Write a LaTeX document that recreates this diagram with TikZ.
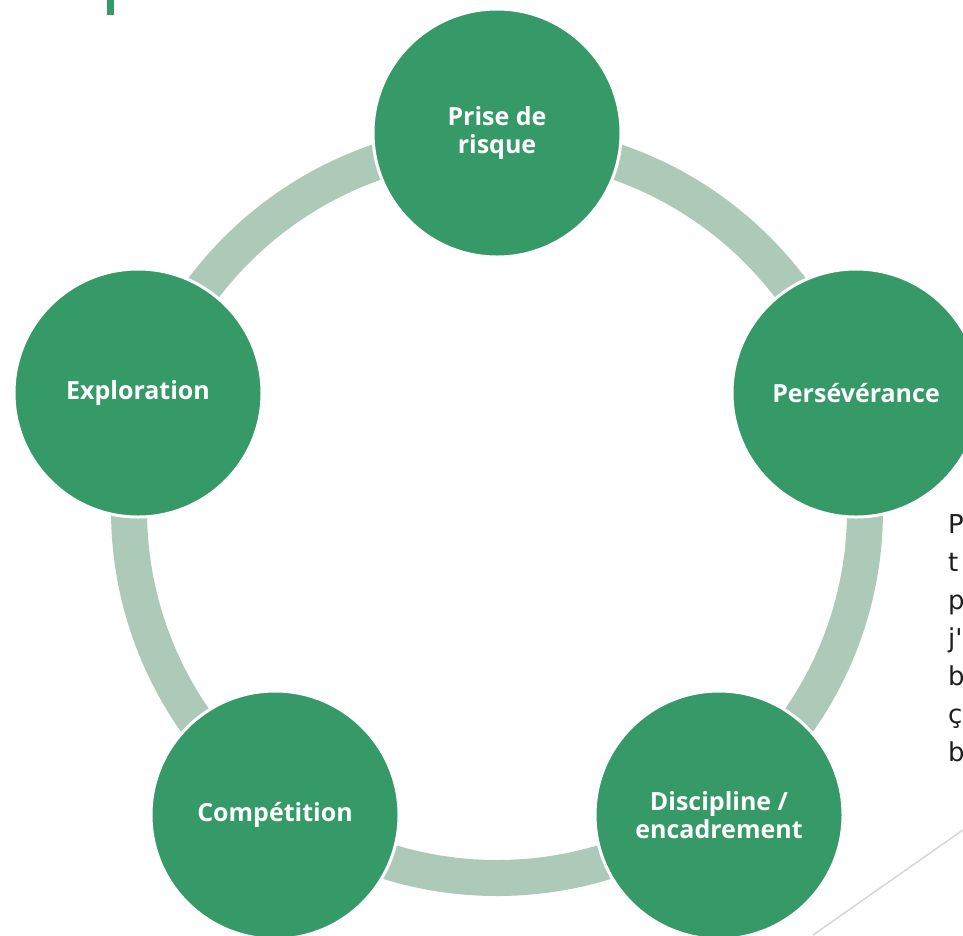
\documentclass[tikz,border=0pt]{standalone}
\usepackage{fontspec}
\setmainfont{Open Sans}
\newfontfamily\cutfont{DejaVu Sans}
\usepackage{tikz}
\usetikzlibrary{positioning}
\definecolor{cyclegreen}{HTML}{359A67}
\definecolor{cycleringgreen}{HTML}{ADC9B8}
\definecolor{slidegray}{HTML}{D6D6D6}
\definecolor{slidetext}{HTML}{1E1E1E}

\begin{document}
\begin{tikzpicture}[x=1pt,y=-1pt,
  stage/.style={circle,fill=cyclegreen,draw=white,line width=3pt,minimum size=248pt,
    inner sep=0pt,text=white,align=center,font=\fontsize{25}{28}\selectfont\bfseries},
  cutword/.style={anchor=base west,inner sep=0pt,text=slidetext,font=\cutfont\fontsize{26}{30}\selectfont}]
  \useasboundingbox (0,0) rectangle (963,935);
  % title bar remnant and slide line
  \fill[cyclegreen] (107,0) rectangle (114,15);
  \coordinate (slashA) at (813,935);
  \coordinate (slashB) at (990,811);
  \draw[slidegray,line width=1.5pt] (slashA) -- (slashB);
  % ring
  \coordinate (hub) at (497,510);
  \draw[cycleringgreen,line width=36pt] (hub) circle[radius=368];
  % stages
  \node[stage] (risque) at (497,133) {Prise de\\risque};
  \node[stage] (perseverance) at (856,393) {Persévérance};
  \node[stage] (discipline) at (719,815) {Discipline /\\encadrement};
  \node[stage] (competition) at (275,815) {Compétition};
  \node[stage] (exploration) at (138,393) {Exploration};
  % cut-off text at the right edge
  \foreach \ch [count=\i from 0] in {P,t,p,j',b,ç,b}
    \node[cutword] (cut\i) at (948,{533+38*\i}) {\ch};
\end{tikzpicture}
\end{document}
